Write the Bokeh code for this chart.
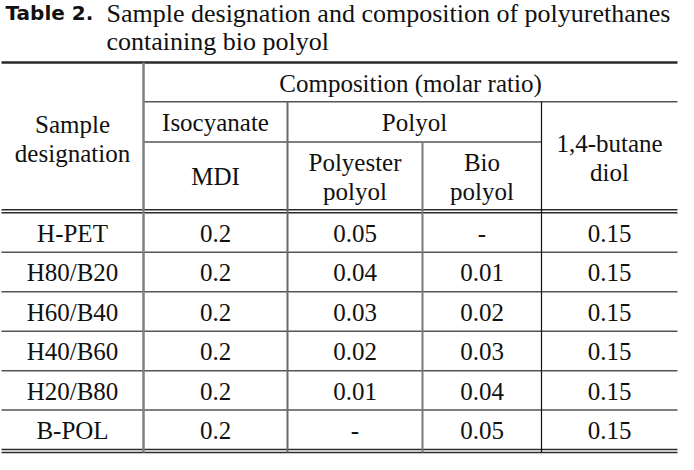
from bokeh.plotting import figure
from bokeh.models import Range1d, ColumnDataSource
from bokeh.embed import file_html
from bokeh.resources import INLINE
from bokeh.core.properties import value

# ---------------- data ----------------
caption_label = "Table 2."
caption_lines = ["Sample designation and composition of polyurethanes",
                 "containing bio polyol"]
header_group = "Composition (molar ratio)"
header_sample = ["Sample", "designation"]
header_iso = "Isocyanate"
header_polyol = "Polyol"
header_mdi = "MDI"
header_polyester = ["Polyester", "polyol"]
header_bio = ["Bio", "polyol"]
header_bdo = ["1,4-butane", "diol"]

samples = ["H-PET", "H80/B20", "H60/B40", "H40/B60", "H20/B80", "B-POL"]
mdi = ["0.2", "0.2", "0.2", "0.2", "0.2", "0.2"]
polyester_polyol = ["0.05", "0.04", "0.03", "0.02", "0.01", "-"]
bio_polyol = ["-", "0.01", "0.02", "0.03", "0.04", "0.05"]
butanediol = ["0.15", "0.15", "0.15", "0.15", "0.15", "0.15"]

# ---------------- layout (target pixel frame) ----------------
XE = [9, 151, 295, 430, 549, 685]          # column edges
Y_TOP = 71
Y_COMP = 111
Y_ISO = 152
Y_DBL_TOP = (221, 224)
Y_DBL_BOT = (465, 468)
n = len(samples)
row_h = (Y_DBL_BOT[0] - Y_DBL_TOP[1]) / n
row_edges = [Y_DBL_TOP[1] + i * row_h for i in range(n + 1)]
DY = 1.0   # small downward offset of text relative to cell centre
row_centers = [(row_edges[i] + row_edges[i + 1]) / 2 + DY for i in range(n)]
col_centers = [(XE[i] + XE[i + 1]) / 2 for i in range(5)]

SERIF = value("Liberation Serif")
FS = "25px"
LINE_GAP = 29.5
TXT = "#111111"

p = figure(width=678, height=454, output_backend="svg", toolbar_location=None,
           x_range=Range1d(8, 686), y_range=Range1d(470, 8),
           min_border=0, outline_line_color=None)
p.axis.visible = False
p.grid.visible = False
p.background_fill_color = "white"
p.border_fill_color = "white"

# ---- caption ----
p.text(x=[13], y=[21], text=[caption_label], text_font=value("DejaVu Sans"),
       text_font_style="bold", text_font_size="20px", text_align="left",
       text_baseline="middle", text_color="#111111")
p.text(x=[114, 114], y=[21, 50], text=caption_lines, text_font=SERIF,
       text_font_size="26px", text_align="left", text_baseline="middle",
       text_color=TXT)

# ---- rules ----
def hseg(x0, x1, y, w, c):
    p.segment(x0=[x0], y0=[y], x1=[x1], y1=[y], line_width=w, line_color=c)

def vseg(x, y0, y1, w, c):
    p.segment(x0=[x], y0=[y0], x1=[x], y1=[y1], line_width=w, line_color=c)

hseg(XE[0], XE[5], Y_TOP, 2.5, "#2a2a2a")
hseg(XE[1], XE[5], Y_COMP, 1.5, "#555555")
hseg(XE[1], XE[4], Y_ISO, 1.5, "#555555")
for yy in Y_DBL_TOP:
    hseg(XE[0], XE[5], yy, 1.5, "#2a2a2a")
for yy in row_edges[1:-1]:
    hseg(XE[0], XE[5], yy, 1.5, "#555555")
for yy in Y_DBL_BOT:
    hseg(XE[0], XE[5], yy, 1.5, "#2a2a2a")

vseg(XE[1], Y_TOP, Y_DBL_BOT[1], 2.5, "#808080")
vseg(XE[2], Y_COMP, Y_DBL_BOT[1], 2, "#6a6a6a")
vseg(XE[3], Y_ISO, Y_DBL_BOT[1], 2, "#7a7a7a")
vseg(XE[4], Y_COMP, Y_DBL_BOT[1], 1.2, "#111111")

# ---- header texts ----
hx, hy, ht = [], [], []
def add(x, y, t):
    hx.append(x); hy.append(y + DY); ht.append(t)

add((XE[1] + XE[5]) / 2, (Y_TOP + Y_COMP) / 2, header_group)
c_sample = (Y_TOP + Y_DBL_TOP[0]) / 2 + 1.5
add(col_centers[0], c_sample - LINE_GAP / 2, header_sample[0])
add(col_centers[0], c_sample + LINE_GAP / 2, header_sample[1])
add(col_centers[1], (Y_COMP + Y_ISO) / 2, header_iso)
add((XE[2] + XE[4]) / 2, (Y_COMP + Y_ISO) / 2, header_polyol)
c_low = (Y_ISO + Y_DBL_TOP[0]) / 2
add(col_centers[1], c_low, header_mdi)
add(col_centers[2], c_low - LINE_GAP / 2, header_polyester[0])
add(col_centers[2], c_low + LINE_GAP / 2, header_polyester[1])
add(col_centers[3], c_low - LINE_GAP / 2, header_bio[0])
add(col_centers[3], c_low + LINE_GAP / 2, header_bio[1])
c_bdo = (Y_COMP + Y_DBL_TOP[0]) / 2 + 1.5
add(col_centers[4], c_bdo - LINE_GAP / 2, header_bdo[0])
add(col_centers[4], c_bdo + LINE_GAP / 2, header_bdo[1])

p.text(x=hx, y=hy, text=ht, text_font=SERIF, text_font_size=FS,
       text_align="center", text_baseline="middle", text_color=TXT)

# ---- body texts ----
bx, by, bt = [], [], []
for ci, col in enumerate([samples, mdi, polyester_polyol, bio_polyol, butanediol]):
    for ri, v in enumerate(col):
        bx.append(col_centers[ci]); by.append(row_centers[ri]); bt.append(v)
src = ColumnDataSource(dict(x=bx, y=by, t=bt))
p.text(x="x", y="y", text="t", source=src, text_font=SERIF, text_font_size=FS,
       text_align="center", text_baseline="middle", text_color=TXT)

open("out.html", "w").write(file_html(p, INLINE))
